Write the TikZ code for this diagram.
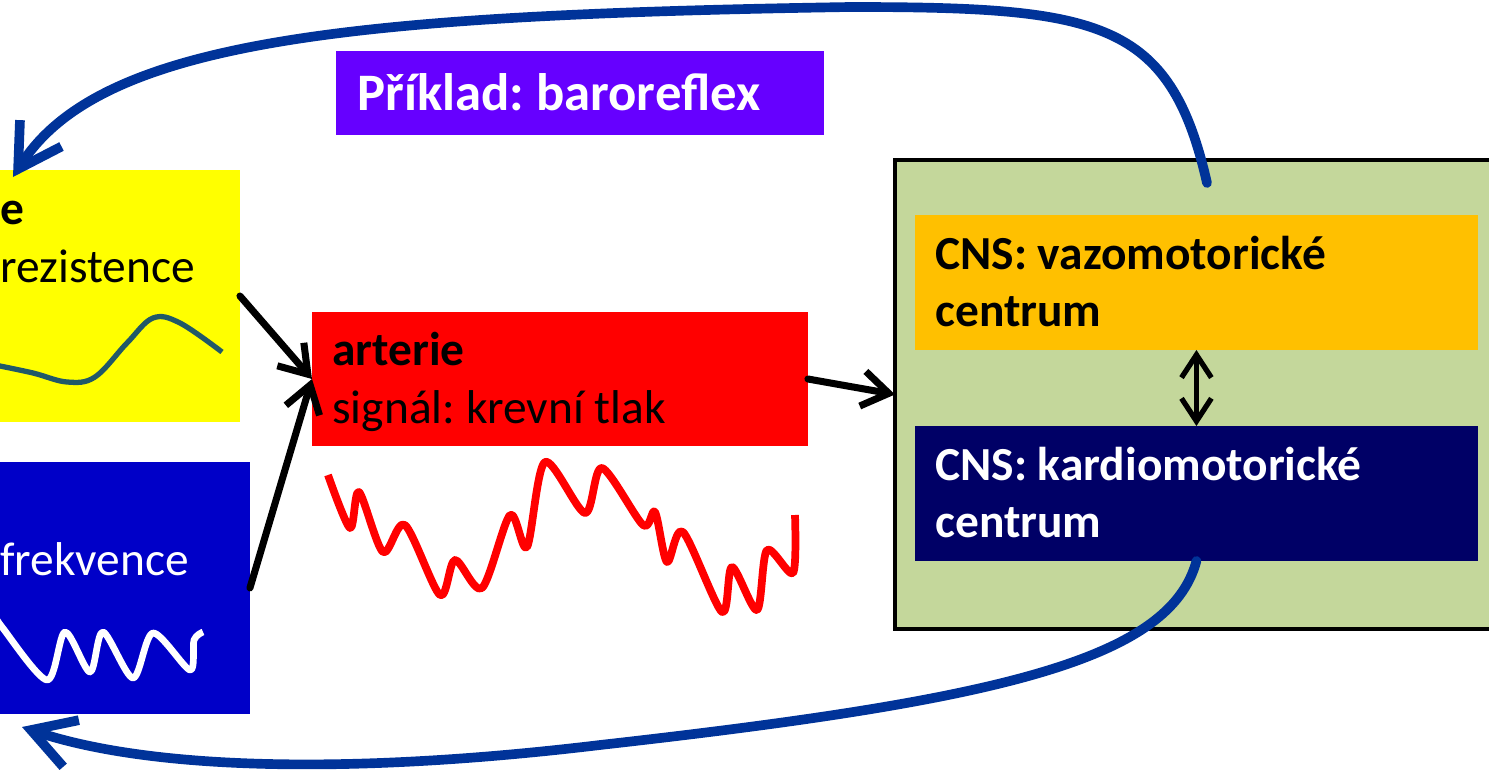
\documentclass[tikz,border=0pt]{standalone}
\usepackage{fontspec}
\setmainfont{Carlito}
\usetikzlibrary{arrows.meta}
\frenchspacing

\definecolor{resyellow}{HTML}{FFFF00}
\definecolor{freqblue}{HTML}{0000C8}
\definecolor{artred}{HTML}{FF0000}
\definecolor{titleviolet}{HTML}{6600FF}
\definecolor{cnsgreen}{HTML}{C4D79B}
\definecolor{vasoorange}{HTML}{FFC000}
\definecolor{cardnavy}{HTML}{000066}
\definecolor{loopblue}{HTML}{003399}
\definecolor{resteal}{HTML}{215968}

\begin{document}
\begin{tikzpicture}[x=0.02cm, y=-0.02cm,
  box/.style={inner sep=0pt, outer sep=0pt, anchor=north west},
  lbl/.style={anchor=base west, inner sep=0pt, font=\fontsize{27}{32}\selectfont},
  flow/.style={line width=4pt, line cap=round, -{Straight Barb[length=15pt, width=20pt]}},
  feed/.style={draw=loopblue, line width=5.5pt, line cap=round, -{Straight Barb[length=24pt, width=28pt]}},
  wave/.style={line width=#1, line cap=butt, line join=round}]
  \useasboundingbox (0,0) rectangle (1489,781);
  \clip (0,0) rectangle (1489,781);

  % boxes
  \node[box, fill=resyellow, minimum width=6cm, minimum height=5.04cm] (yellow) at (-60,170) {};
  \node[box, fill=freqblue, minimum width=6.2cm, minimum height=5.04cm] (blue) at (-60,462) {};
  \node[box, fill=artred, minimum width=9.92cm, minimum height=2.68cm] (red) at (312,312) {};
  \node[box, fill=titleviolet, minimum width=9.76cm, minimum height=1.68cm] (title) at (336,51) {};
  \node[box, fill=cnsgreen, draw=black, line width=2.5pt, minimum width=12.3cm, minimum height=9.38cm] (green) at (895,160) {};
  \node[box, fill=vasoorange, minimum width=11.26cm, minimum height=2.7cm] (orange) at (915,215) {};
  \node[box, fill=cardnavy, minimum width=11.26cm, minimum height=2.7cm] (navy) at (915,426) {};

  % texts
  \node[lbl] (resA) at (0,224) {\bfseries e};
  \node[lbl] (resB) at (0,282) {rezistence};
  \node[lbl, text=white] (freq) at (0,575) {frekvence};
  \node[lbl] (artA) at (332,365) {\bfseries arterie};
  \node[lbl] (artB) at (332,423) {signál: krevní tlak};
  \node[lbl, text=white, font=\fontsize{30}{36}\selectfont\bfseries] (ttl) at (357,110) {Příklad: baroreflex};
  \node[lbl] (vasoA) at (935,269) {\bfseries CNS: vazomotorické};
  \node[lbl] (vasoB) at (935,326) {\bfseries centrum};
  \node[lbl, text=white] (cardA) at (935,480) {\bfseries CNS: kardiomotorické};
  \node[lbl, text=white] (cardB) at (935,537) {\bfseries centrum};

  % signal curves
  \draw[wave=3pt, resteal] plot[smooth, tension=0.6] coordinates {(-5,365) (33,373) (67,382) (95,377) (127,343) (153,318) (180,323) (222,352)};
  \draw[wave=3.8pt, white] plot[smooth, tension=0.5] coordinates {(-5,615) (2,627) (47,680) (65,632) (90,672) (103,632) (133,678) (153,633) (190,670) (194,640) (203,632)};
  \draw[wave=4.4pt, artred] plot[smooth, tension=0.5] coordinates {(328,475) (350,528) (359,492) (383,552) (405,525) (440,595) (455,560) (482,588) (510,515) (527,547) (545,462) (585,513) (602,468) (643,525) (655,512) (667,562) (683,532) (722,612) (732,567) (757,610) (767,550) (793,573) (795,515)};

  % connectors
  \coordinate (vasoout) at (1207,183);
  \coordinate (resin) at (13,177);
  \coordinate (freqin) at (22,727);
  \draw[flow] (yellow.east) -- (red.west);
  \draw[flow] (blue.east) -- (red.west);
  \draw[flow] (red.east) -- (green.west);
  \draw[line width=3pt, line cap=round, {Straight Barb[length=13pt, width=17pt]}-{Straight Barb[length=13pt, width=17pt]}] (orange.south) -- (navy.north);
  \draw[feed] (vasoout) .. controls (1170,20) and (1100,7) .. (850,7) .. controls (350,15) and (100,40) .. (resin);
  \draw[feed] (navy.south) .. controls (1170,660) and (1000,700) .. (600,745) .. controls (350,775) and (150,770) .. (freqin);
\end{tikzpicture}
\end{document}
